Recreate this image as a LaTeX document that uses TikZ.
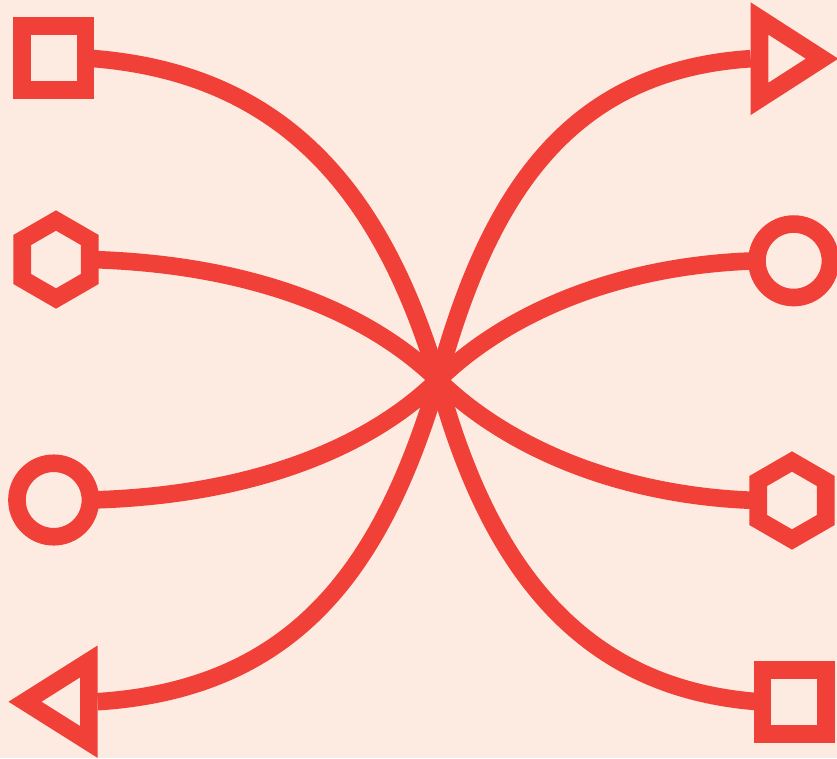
\documentclass[tikz,border=0pt]{standalone}
\usetikzlibrary{shapes.geometric}
\definecolor{bgpeach}{RGB}{253,235,225}
\definecolor{iconred}{RGB}{240,64,56}
\begin{document}
\begin{tikzpicture}[x=1pt,y=-1pt,
  lw/.style={line width=17.6pt},
  sym/.style={draw=iconred,lw,inner sep=0pt,outer sep=0pt},
  sq/.style={sym,rectangle,minimum size=63.5pt},
  hex/.style={sym,regular polygon,regular polygon sides=6,regular polygon rotate=30,minimum size=78pt},
  circ/.style={sym,circle,minimum size=73.5pt},
  tri/.style={draw=iconred,lw,line join=miter},
  link/.style={draw=iconred,lw,line cap=butt}]
\fill[bgpeach] (0,0) rectangle (837,758);
\useasboundingbox (0,0) rectangle (837,758);
% symbols
\node[sq] (sqL) at (53.8,58) {};
\node[hex] (hexL) at (56,259.5) {};
\node[circ] (cirL) at (53.7,500) {};
\node[sq] (sqR) at (794.2,702) {};
\node[hex] (hexR) at (792,500.5) {};
\node[circ] (cirR) at (793.7,260.8) {};
\draw[tri] (88.85,661.45) -- (25,701.7) -- (88.85,741.95) -- cycle;
\draw[tri] (759.5,18.5) -- (822,58.7) -- (759.5,98.9) -- cycle;
\coordinate (triL) at (97.65,701.7);
\coordinate (triR) at (750.7,58.7);
\coordinate (X) at (438,380);
% connectors
\draw[link] (sqL.east) .. controls +(200,13) and +(-55,-185) .. (X);
\draw[link] (hexL.east) .. controls +(150,4) and +(-76,-74) .. (X);
\draw[link] (cirL.east) .. controls +(150,-4) and +(-76,74) .. (X);
\draw[link] (triL) .. controls +(200,-13) and +(-55,185) .. (X);
\draw[link] (X) .. controls +(50.4,185) and +(-183,-12) .. (sqR.west);
\draw[link] (X) .. controls +(69.6,68) and +(-137,-4) .. (hexR.west);
\draw[link] (X) .. controls +(69.6,-68) and +(-137,4) .. (cirR.west);
\draw[link] (X) .. controls +(50.4,-185) and +(-183,12) .. (triR);
\end{tikzpicture}
\end{document}
